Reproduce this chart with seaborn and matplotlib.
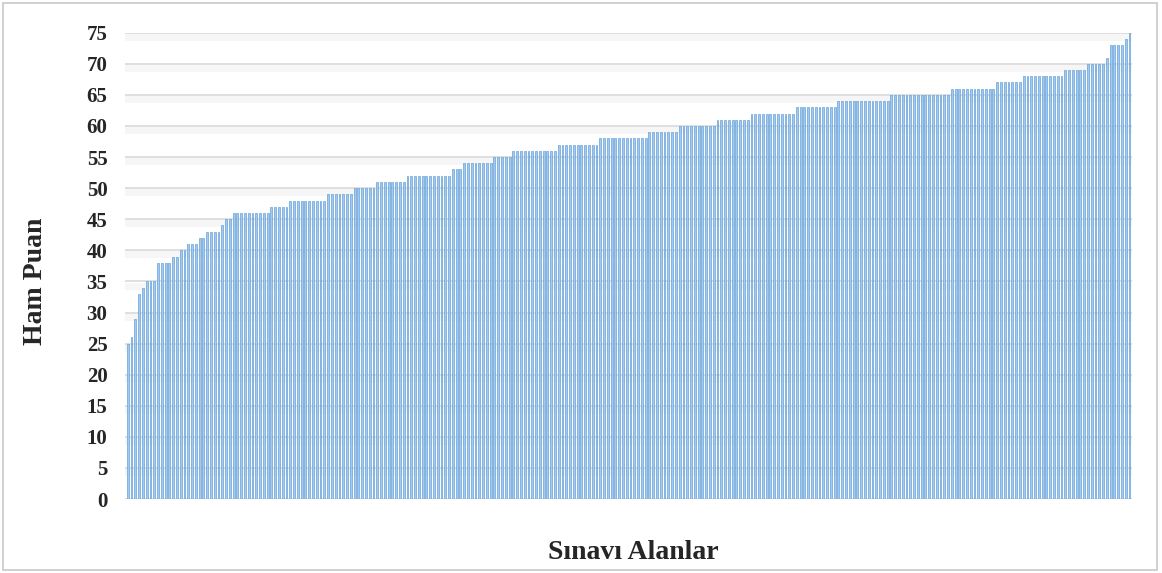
#!/usr/bin/env python3
# Ham puan dagilimi - sinavi alanlarin siralanmis puanlari (bar chart)

import numpy as np
import pandas as pd
import seaborn as sns
import matplotlib.pyplot as plt
from matplotlib import patheffects as pe
from matplotlib.patches import Rectangle

# --- Data: each score level and how many test takers got it ---
score_levels = [25, 26, 29, 33, 34, 35, 38, 39, 40, 41, 42, 43, 44, 45,
                46, 47, 48, 49, 50, 51, 52, 53, 54, 55, 56, 57, 58, 59,
                60, 61, 62, 63, 64, 65, 66, 67, 68, 69, 70, 71, 73, 74, 75]
level_counts = [1, 1, 1, 1, 1, 3, 4, 2, 2, 3, 2, 4, 1, 2,
                10, 5, 10, 7, 6, 8, 12, 3, 8, 5, 12, 11, 13, 8,
                10, 9, 12, 11, 14, 16, 12, 7, 11, 6, 5, 1, 4, 1, 1]
y_ticks = list(range(0, 80, 5))

y_title = "Ham Puan"
x_title = "Sınavı Alanlar"

scores = np.repeat(score_levels, level_counts)
df = pd.DataFrame({"kisi": np.arange(len(scores)), "puan": scores})

# --- Style ---
sns.set_theme(style="white")
plt.rcParams['font.family'] = ['Liberation Serif', 'DejaVu Serif']

fig = plt.figure(figsize=(11.62, 5.73), dpi=100)
ax = fig.add_axes([0.108, 0.129, 0.866, 0.814])

sns.barplot(data=df, x="kisi", y="puan", ax=ax, color="#a3caee",
            edgecolor="#5b9bd5", linewidth=0.45, width=0.5, saturation=1)

ax.set_ylim(0, 75)
ax.set_xlim(-0.6, len(scores) - 0.4)
ax.set_yticks(y_ticks)
ax.set_yticklabels([str(t) for t in y_ticks], fontsize=15, fontweight="bold")
ax.set_xticks([])
ax.tick_params(axis="y", length=0, pad=13)

# gridlines with a soft shadow, like the original
ax.set_axisbelow(True)
ax.yaxis.grid(True, color="#d9d9d9", linewidth=1.2)
for gl in ax.get_ygridlines():
    gl.set_path_effects([pe.SimpleLineShadow(offset=(0, -3), shadow_color="#000000",
                                             alpha=0.035, linewidth=5),
                         pe.Normal()])

for s in ax.spines.values():
    s.set_visible(False)

ax.set_ylabel(y_title, fontsize=20, fontweight="bold")
ax.yaxis.set_label_coords(-0.077, 0.466)
ax.set_xlabel(x_title, fontsize=20, fontweight="bold")
ax.xaxis.set_label_coords(0.505, -0.087)

# light frame round the whole picture
fig.patches.append(Rectangle((0.003, 0.006), 0.993, 0.988, transform=fig.transFigure,
                             fill=False, edgecolor="#c8c8c8", linewidth=1.2))

fig.savefig("out.png", dpi=100)
